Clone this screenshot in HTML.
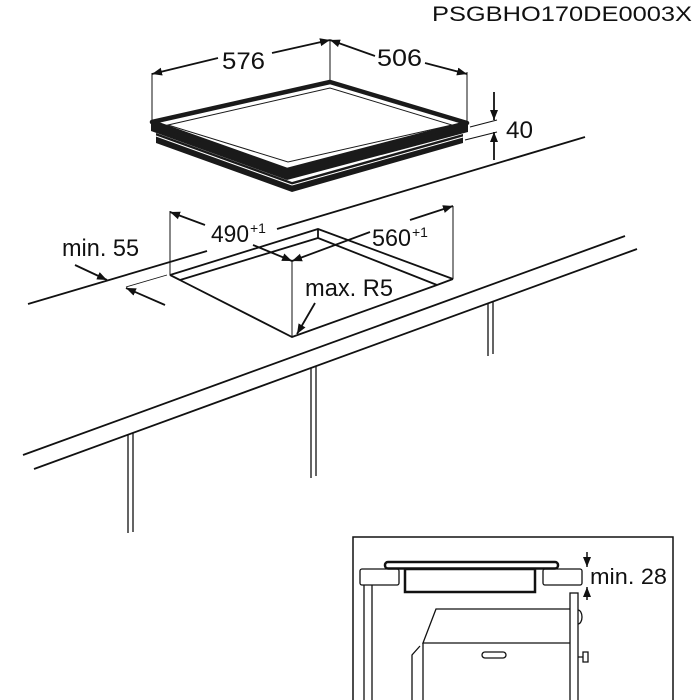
<!DOCTYPE html>
<html><head><style>
html,body{margin:0;padding:0;background:#fff;}
svg{display:block;}
text{font-family:"Liberation Sans",sans-serif;fill:#111;}
</style></head><body>
<svg width="700" height="700" viewBox="0 0 700 700" xmlns="http://www.w3.org/2000/svg">
<defs>
<marker id="ah" viewBox="0 0 10 10" refX="10" refY="5" markerWidth="10" markerHeight="10" markerUnits="userSpaceOnUse" orient="auto">
<path d="M0,1 L10,5 L0,9 Z" fill="#111"/>
</marker>
</defs>
<text x="432" y="21" font-size="21" textLength="260" lengthAdjust="spacingAndGlyphs">PSGBHO170DE0003X</text>

<g stroke="#111" fill="none">
<line x1="152" y1="73" x2="152" y2="122" stroke-width="1"/>
<line x1="330" y1="40" x2="330" y2="82" stroke-width="1"/>
<line x1="467" y1="72" x2="467" y2="122" stroke-width="1"/>
<line x1="218" y1="58" x2="152" y2="74" stroke-width="1.8" marker-end="url(#ah)"/>
<line x1="272" y1="53" x2="330" y2="40" stroke-width="1.8" marker-end="url(#ah)"/>
<line x1="375" y1="56" x2="330" y2="40" stroke-width="1.8" marker-end="url(#ah)"/>
<line x1="425" y1="63" x2="467" y2="74" stroke-width="1.8" marker-end="url(#ah)"/>
</g>
<text x="222" y="69" font-size="24" textLength="43" lengthAdjust="spacingAndGlyphs">576</text>
<text x="377" y="66" font-size="24" textLength="45" lengthAdjust="spacingAndGlyphs">506</text>

<polygon points="156,133 292,182 463,134 463,143 292,192 156,143" fill="#1a1a1a"/>
<polygon points="151,122 287,170 468,123 468,132 287,180 151,131" fill="#1a1a1a"/>
<polygon points="152,122 330,82 467,123 287,170" fill="#fff" stroke="#1a1a1a" stroke-width="4.5" stroke-linejoin="round"/>
<polygon points="168,125 330,88 452,125 288,162" fill="none" stroke="#1a1a1a" stroke-width="1"/>
<line x1="156" y1="136" x2="292" y2="185" stroke="#fff" stroke-width="1"/>
<line x1="292" y1="185" x2="463" y2="137" stroke="#fff" stroke-width="1"/>

<g stroke="#111" stroke-width="1">
<line x1="470" y1="127" x2="497" y2="120"/>
<line x1="465" y1="140" x2="497" y2="132"/>
</g>
<line x1="494" y1="92" x2="494" y2="120" stroke="#111" stroke-width="1.8" marker-end="url(#ah)"/>
<line x1="494" y1="160" x2="494" y2="132" stroke="#111" stroke-width="1.8" marker-end="url(#ah)"/>
<text x="506" y="138" font-size="24" textLength="27" lengthAdjust="spacingAndGlyphs">40</text>

<g stroke="#111" stroke-width="1.8" fill="none">
<line x1="28" y1="304" x2="207" y2="251"/>
<line x1="277" y1="229" x2="585" y2="137"/>
<line x1="23" y1="455" x2="625" y2="236"/>
<line x1="34" y1="469" x2="637" y2="249"/>
</g>
<g stroke="#111" stroke-width="1.3">
<line x1="128" y1="435" x2="128" y2="533"/><line x1="133" y1="433" x2="133" y2="532"/>
<line x1="311" y1="368" x2="311" y2="478"/><line x1="316" y1="366" x2="316" y2="476"/>
<line x1="488" y1="304" x2="488" y2="356"/><line x1="493" y1="302" x2="493" y2="354"/>
</g>

<g stroke="#111" stroke-width="1.8" fill="none" stroke-linejoin="miter">
<polyline points="170,275 318,229 453,279"/>
<polyline points="180,280 318,238 437,285"/>
<polyline points="170,275 292,337 437,285 453,279"/>
<line x1="318" y1="229" x2="318" y2="238"/>
<line x1="170" y1="275" x2="180" y2="280"/>
</g>
<g stroke="#111" stroke-width="1">
<line x1="292" y1="261" x2="292" y2="337"/>
<line x1="170" y1="211" x2="170" y2="275"/>
<line x1="453" y1="206" x2="453" y2="279"/>
</g>
<g stroke="#111" stroke-width="1.8">
<line x1="205" y1="225" x2="170" y2="212" marker-end="url(#ah)"/>
<line x1="253" y1="245" x2="292" y2="261" marker-end="url(#ah)"/>
<line x1="370" y1="232" x2="292" y2="261" marker-end="url(#ah)"/>
<line x1="410" y1="220" x2="453" y2="206" marker-end="url(#ah)"/>
<line x1="75" y1="265" x2="107" y2="280" marker-end="url(#ah)"/>
<line x1="165" y1="305" x2="126" y2="288" marker-end="url(#ah)"/>
<line x1="315" y1="303" x2="297" y2="334" marker-end="url(#ah)"/>
</g>
<line x1="126" y1="287" x2="167" y2="275" stroke="#111" stroke-width="0.8"/>
<text x="211" y="242" font-size="24" textLength="38" lengthAdjust="spacingAndGlyphs">490</text><text x="250" y="233" font-size="14">+1</text>
<text x="372" y="246" font-size="24" textLength="39" lengthAdjust="spacingAndGlyphs">560</text><text x="412" y="237" font-size="14">+1</text>
<text x="62" y="256" font-size="24" textLength="77" lengthAdjust="spacingAndGlyphs">min. 55</text>
<text x="305" y="296" font-size="24" textLength="88" lengthAdjust="spacingAndGlyphs">max. R5</text>

<rect x="353" y="537" width="320" height="175" fill="none" stroke="#111" stroke-width="1.5"/>
<g stroke="#111" fill="none">
<rect x="385" y="562" width="173" height="6.5" rx="3" stroke-width="2.5"/>
<rect x="405" y="569" width="130" height="23" stroke-width="2.5"/>
<rect x="360" y="569" width="39" height="16" rx="2" stroke-width="1.3"/>
<rect x="543" y="569" width="39" height="16" rx="2" stroke-width="1.3"/>
<line x1="364" y1="585" x2="364" y2="700" stroke-width="1.3"/>
<line x1="372" y1="585" x2="372" y2="700" stroke-width="1.3"/>
<rect x="570" y="593" width="8" height="110" stroke-width="1.3"/>
<path d="M578,610 A4,7 0 0 1 578,624" stroke-width="1.3"/>
<path d="M578,657 H583 M583,652 h5 v10 h-5 z" stroke-width="1.3"/>
<polyline points="570,609 436,609 423,643 570,643" stroke-width="1.3"/>
<line x1="423" y1="643" x2="423" y2="700" stroke-width="1.3"/>
<polyline points="420,646 412,655 412,700" stroke-width="1.3"/>
<rect x="482" y="652" width="24" height="6" rx="3" stroke-width="1.3"/>
</g>
<line x1="587" y1="552" x2="587" y2="567" stroke="#111" stroke-width="1.5" marker-end="url(#ah)"/>
<line x1="587" y1="600" x2="587" y2="587" stroke="#111" stroke-width="1.5" marker-end="url(#ah)"/>
<text x="590" y="584" font-size="22" textLength="77" lengthAdjust="spacingAndGlyphs">min. 28</text>
</svg>
</body></html>
